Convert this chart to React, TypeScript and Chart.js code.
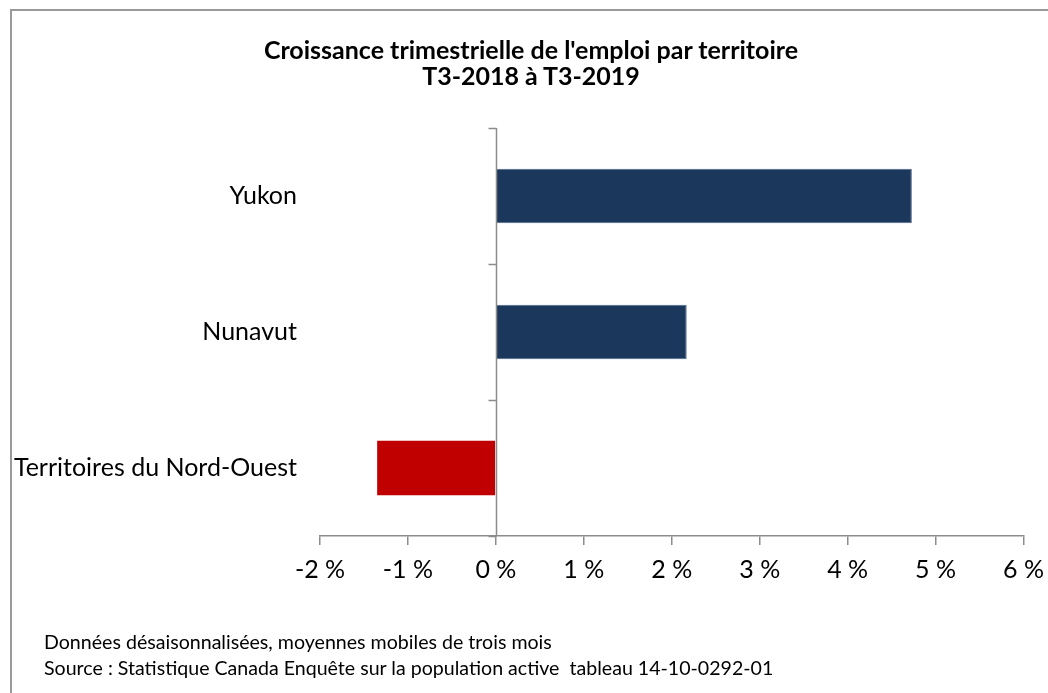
import React, { useEffect, useRef } from "react";
import { Chart, registerables } from "chart.js";

Chart.register(...registerables);

const titleLines = ["Croissance trimestrielle de l'emploi par territoire", "T3-2018 à T3-2019"];
const categories = ["Yukon", "Nunavut", "Territoires du Nord-Ouest"];
const growth = [4.73, 2.17, -1.35];
const barColors = ["#1b375c", "#1b375c", "#c00000"];
const barEdgeColors = ["#51698a", "#51698a", "#c00000"];
const barEdgeWidths = [1, 1, 0];
const xMin = -2;
const xMax = 6;
const footnotes = [
  "Données désaisonnalisées, moyennes mobiles de trois mois",
  "Source : Statistique Canada Enquête sur la population active  tableau 14-10-0292-01",
];

const FONT = "Lato, 'Open Sans', sans-serif";
const AXIS_COLOR = "#8c8c8c";

const zeroAxisPlugin = {
  id: "zeroAxis",
  afterDatasetsDraw(chart: any) {
    const x = chart.scales.x;
    const y = chart.scales.y;
    const ctx = chart.ctx;
    const x0 = Math.round(x.getPixelForValue(0)) + 0.5;
    ctx.save();
    ctx.strokeStyle = AXIS_COLOR;
    ctx.lineWidth = 1.5;
    ctx.beginPath();
    ctx.moveTo(x0, y.top);
    ctx.lineTo(x0, y.bottom);
    for (let i = 0; i <= categories.length; i++) {
      const py = Math.round(y.getPixelForValue(i - 0.5)) + 0.5;
      ctx.moveTo(x0 - 8, py);
      ctx.lineTo(x0, py);
    }
    ctx.stroke();
    ctx.restore();
  },
};

export default function App() {
  const ref = useRef<HTMLCanvasElement>(null);
  useEffect(() => {
    if (!ref.current) return;
    const chart = new Chart(ref.current, {
      type: "bar",
      data: {
        labels: categories,
        datasets: [
          {
            data: growth,
            backgroundColor: barColors,
            borderColor: barEdgeColors,
            borderWidth: barEdgeWidths,
            categoryPercentage: 1,
            barPercentage: 0.4,
          },
        ],
      },
      options: {
        indexAxis: "y",
        animation: false,
        responsive: false,
        maintainAspectRatio: false,
        layout: { padding: { left: 14, right: 25, top: 128, bottom: 0 } },
        plugins: {
          legend: { display: false },
          tooltip: { enabled: false },
          title: { display: false },
        },
        scales: {
          x: {
            min: xMin,
            max: xMax,
            afterFit: (s: any) => {
              s.height = 157;
            },
            ticks: {
              stepSize: 1,
              color: "#000",
              font: { family: FONT, size: 25 },
              padding: 10,
              maxRotation: 0,
              callback: (v: any) => `${v} %`,
            },
            grid: {
              drawOnChartArea: false,
              drawTicks: true,
              tickLength: 9,
              color: AXIS_COLOR,
              lineWidth: 1.5,
            },
            border: { display: true, color: AXIS_COLOR, width: 1.5 },
          },
          y: {
            afterFit: (s: any) => {
              s.width = 306;
            },
            ticks: {
              color: "#000",
              font: { family: FONT, size: 25 },
              padding: 23,
            },
            grid: { display: false, drawTicks: false },
            border: { display: false },
          },
        },
      },
      plugins: [zeroAxisPlugin],
    });
    return () => chart.destroy();
  }, []);

  return (
    <div style={{ position: "absolute", left: 0, top: 0, width: 1048, height: 693, overflow: "hidden", background: "#fff" }}>
      <div
        style={{
          position: "absolute",
          left: 10,
          top: 9,
          width: 1100,
          height: 800,
          border: "2px solid #9a9a9a",
          boxSizing: "border-box",
        }}
      />
      <canvas ref={ref} width={1054} height={693} style={{ position: "absolute", left: 0, top: 0 }} />
      <div
        style={{
          position: "absolute",
          left: 0,
          top: 36,
          width: 1062,
          textAlign: "center",
          fontFamily: FONT,
          fontSize: 25,
          fontWeight: "bold",
          lineHeight: "26px",
          color: "#000",
        }}
      >
        {titleLines.map((t, i) => (
          <div key={i}>{t}</div>
        ))}
      </div>
      {footnotes.map((t, i) => (
        <div
          key={i}
          style={{
            position: "absolute",
            left: 44,
            top: 629 + i * 26,
            fontFamily: FONT,
            fontSize: 19.6,
            lineHeight: "26px",
            color: "#000",
            whiteSpace: "pre",
          }}
        >
          {t}
        </div>
      ))}
    </div>
  );
}
